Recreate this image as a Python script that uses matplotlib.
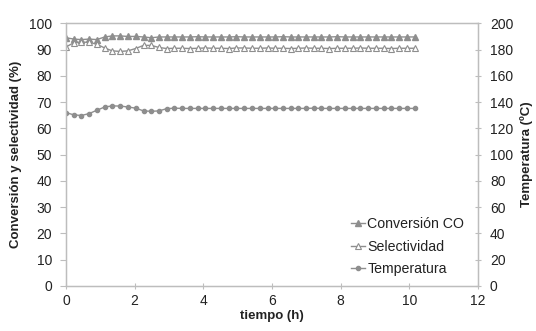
import matplotlib
matplotlib.use("Agg")
import matplotlib.pyplot as plt

plt.rcParams['font.family'] = ['Liberation Sans', 'DejaVu Sans']

tiempo = [0, 0.23, 0.45, 0.68, 0.9, 1.13, 1.35, 1.58, 1.8, 2.03, 2.26, 2.48, 2.71, 2.93,
          3.16, 3.38, 3.61, 3.84, 4.06, 4.29, 4.51, 4.74, 4.96, 5.19, 5.41, 5.64, 5.87,
          6.09, 6.32, 6.54, 6.77, 6.99, 7.22, 7.44, 7.67, 7.9, 8.12, 8.35, 8.57, 8.8,
          9.02, 9.25, 9.47, 9.7, 9.93, 10.15]
conversion = [94.5, 94.0, 93.8, 94.0, 93.8, 94.8, 95.2, 95.2, 95.0, 95.0, 94.8, 94.5,
              94.8, 94.8, 94.8, 94.8, 94.8, 94.9, 94.8, 94.8, 94.8, 94.8, 94.9, 94.8,
              94.8, 94.8, 94.8, 94.8, 94.9, 94.8, 94.8, 94.8, 94.8, 94.8, 94.8, 94.9,
              94.8, 94.8, 94.8, 94.8, 94.8, 94.8, 94.8, 94.8, 94.8, 94.8]
selectividad = [91.0, 92.6, 92.8, 92.8, 92.0, 90.6, 89.5, 89.3, 89.5, 90.4, 91.6, 91.6,
                90.8, 90.4, 90.5, 90.5, 90.4, 90.5, 90.6, 90.5, 90.5, 90.4, 90.6, 90.6,
                90.5, 90.5, 90.6, 90.5, 90.5, 90.4, 90.5, 90.6, 90.5, 90.5, 90.4, 90.5,
                90.5, 90.5, 90.6, 90.5, 90.5, 90.5, 90.4, 90.5, 90.5, 90.5]
temperatura = [132.0, 130.3, 129.8, 131.3, 133.8, 136.3, 137.1, 137.0, 136.3, 135.4,
               133.3, 133.0, 133.3, 135.0, 135.4, 135.2, 135.2, 135.2, 135.2, 135.2,
               135.2, 135.2, 135.2, 135.2, 135.2, 135.2, 135.2, 135.2, 135.2, 135.2,
               135.2, 135.2, 135.4, 135.2, 135.2, 135.2, 135.2, 135.2, 135.2, 135.2,
               135.2, 135.2, 135.2, 135.2, 135.2, 135.2]

xticks = [0, 2, 4, 6, 8, 10, 12]
yticks_left = list(range(0, 101, 10))
yticks_right = list(range(0, 201, 20))

gray = '#8e8e8e'
spine = '#bdbdbd'
txt = '#222222'

fig = plt.figure(figsize=(5.36, 3.31), dpi=100)
ax = fig.add_axes([0.123, 0.136, 0.769, 0.7936])
ax2 = ax.twinx()

l1, = ax.plot(tiempo, conversion, color=gray, lw=1.0, marker='^', ms=4.3,
              mfc=gray, mec=gray, label='Conversión CO')
l2, = ax.plot(tiempo, selectividad, color=gray, lw=1.0, marker='^', ms=4.3,
              mfc='white', mec=gray, mew=0.8, label='Selectividad')
l3, = ax2.plot(tiempo, temperatura, color=gray, lw=1.0, marker='o', ms=3.0,
               mfc=gray, mec=gray, label='Temperatura')

ax.set_xlim(0, 12)
ax.set_ylim(0, 100)
ax2.set_ylim(0, 200)
ax.set_xticks(xticks)
ax.set_yticks(yticks_left)
ax2.set_yticks(yticks_right)

for a in (ax, ax2):
    for s in a.spines.values():
        s.set_color(spine)
        s.set_linewidth(0.9)
ax.tick_params(axis='x', direction='inout', length=5, color=spine, labelsize=10,
               labelcolor=txt, pad=3)
ax.tick_params(axis='y', direction='out', length=4, color=spine, labelsize=10,
               labelcolor=txt, pad=6)
ax2.tick_params(axis='y', direction='inout', length=5, color=spine, labelsize=10,
                labelcolor=txt, pad=6)

ax.set_xlabel('tiempo (h)', fontweight='bold', fontsize=9.5, color=txt, labelpad=2)
ax.set_ylabel('Conversión y selectividad (%)', fontweight='bold', fontsize=9.5,
              color=txt, labelpad=5)
ax2.set_ylabel('Temperatura (ºC)', fontweight='bold', fontsize=9.5, color=txt,
               labelpad=5)

leg = ax.legend(handles=[l1, l2, l3], loc='lower right', frameon=False,
                fontsize=10.2, handlelength=1.0, handletextpad=0.15,
                labelspacing=0.6, borderaxespad=0.3,
                bbox_to_anchor=(0.99, 0.0))
for t in leg.get_texts():
    t.set_color(txt)

fig.savefig('out.png', dpi=100)
